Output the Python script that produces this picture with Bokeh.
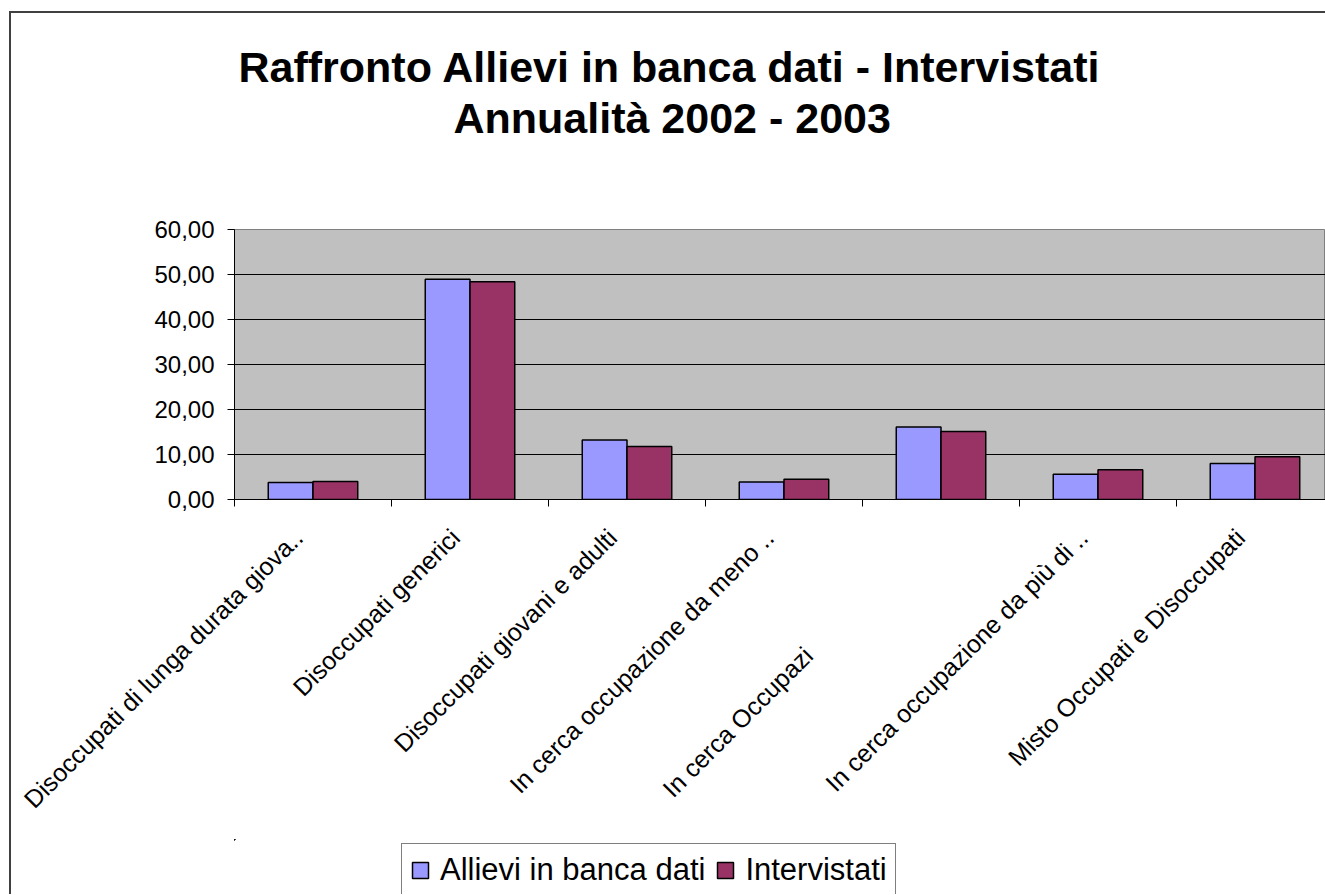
import math
import numpy as np
from bokeh.plotting import figure
from bokeh.layouts import column
from bokeh.models import Range1d, FixedTicker, Legend, LegendItem, Title
from bokeh.embed import file_html
from bokeh.resources import INLINE

# ---------------- data ----------------
categories = [
    "Disoccupati di lunga durata giova..",
    "Disoccupati generici",
    "Disoccupati giovani e adulti",
    "In cerca occupazione da meno ..",
    "In cerca Occupazi",
    "In cerca occupazione da più di ..",
    "Misto Occupati e Disoccupati",
]
allievi = [3.78, 48.96, 13.2, 3.9, 16.1, 5.6, 8.0]
intervistati = [4.0, 48.4, 11.8, 4.5, 15.1, 6.6, 9.5]
series_names = ["Allievi in banca dati", "Intervistati"]
y_ticks = [0, 10, 20, 30, 40, 50, 60]
y_tick_labels = ["0,00", "10,00", "20,00", "30,00", "40,00", "50,00", "60,00"]
title_lines = ["Raffronto Allievi in banca dati - Intervistati", "Annualità 2002 - 2003"]

# ---------------- layout ----------------
W = 1314
H_MAIN, H_LEG = 826, 55
BL, BT, BR = 223, 216, 0
BB = H_MAIN - 486
CAT_PX = 157.0
frame_w = W - BL - BR
n = len(categories)
BAR_W = 0.285
FONT = "Liberation Sans"
NBSP = "\u00a0"
BLUE, MAROON = "#9999FF", "#993366"

p = figure(width=W, height=H_MAIN, output_backend="svg", toolbar_location=None,
           x_range=Range1d(-0.5, -0.5 + frame_w / CAT_PX),
           y_range=Range1d(y_ticks[0], y_ticks[-1]),
           min_border_left=BL, min_border_top=BT, min_border_bottom=BB,
           min_border_right=BR, title=None)
p.background_fill_color = "#C0C0C0"
p.border_fill_color = "white"
p.outline_line_color = "#808080"
p.outline_line_width = 1

idx = np.arange(n)
bar_kw = dict(width=BAR_W, bottom=0, line_color="black", line_width=1.5)
r1 = p.vbar(x=idx - BAR_W / 2, top=allievi, fill_color=BLUE, **bar_kw)
r2 = p.vbar(x=idx + BAR_W / 2, top=intervistati, fill_color=MAROON, **bar_kw)

# x axis
xa = p.xaxis[0]
xa.ticker = FixedTicker(ticks=list(range(n)), minor_ticks=[i - 0.5 for i in range(n + 1)])
labels = {}
for i, c in enumerate(categories):
    labels[i] = c + NBSP * (27 if i == 4 else 3)
xa.major_label_overrides = labels
xa.major_label_orientation = math.pi / 4
xa.major_tick_line_color = None
xa.major_tick_out = 7
xa.major_tick_in = 0
xa.minor_tick_line_color = "black"
xa.minor_tick_out = 7
xa.minor_tick_in = 0
xa.axis_line_color = "black"
xa.major_label_text_font = FONT
xa.major_label_text_font_size = "25px"
xa.major_label_text_color = "black"
xa.major_label_standoff = 12

# y axis
ya = p.yaxis[0]
ya.ticker = FixedTicker(ticks=y_ticks)
ya.major_label_overrides = {t: l for t, l in zip(y_ticks, y_tick_labels)}
ya.major_tick_out = 7
ya.major_tick_in = 0
ya.major_tick_line_color = "black"
ya.minor_tick_line_color = None
ya.axis_line_color = "black"
ya.major_label_text_font = FONT
ya.major_label_text_font_size = "24px"
ya.major_label_text_color = "black"
ya.major_label_standoff = 13

p.xgrid.visible = False
p.ygrid.ticker = FixedTicker(ticks=y_ticks)
p.ygrid.grid_line_color = "black"
p.ygrid.grid_line_width = 1

# title: panels stacked upward from the frame (spacer, line 2, line 1)
p.add_layout(Title(text=" ", text_font_size="1px", standoff=84), "above")
for txt, off, so in [(title_lines[1], 219, 2), (title_lines[0], 4, 0)]:
    p.add_layout(Title(text=txt, align="left", offset=off, standoff=so,
                       vertical_align="bottom", text_font=FONT, text_font_size="43px",
                       text_font_style="bold", text_color="black"), "above")

# legend strip below the chart (same frame alignment as the chart)
p2 = figure(width=W, height=H_LEG, output_backend="svg", toolbar_location=None,
            x_axis_type=None, y_axis_type=None, title=None,
            x_range=Range1d(100, 101), y_range=Range1d(-2, -1),
            min_border_left=BL, min_border_right=BR, min_border_top=0,
            min_border_bottom=0)
p2.outline_line_color = None
p2.background_fill_color = "white"
p2.border_fill_color = "white"
l1 = p2.vbar(x=idx - BAR_W / 2, top=allievi, fill_color=BLUE, **bar_kw)
l2 = p2.vbar(x=idx + BAR_W / 2, top=intervistati, fill_color=MAROON, **bar_kw)
legend = Legend(items=[LegendItem(label=series_names[0], renderers=[l1]),
                       LegendItem(label=series_names[1], renderers=[l2])],
                orientation="horizontal", location=(401 - 234, -3),
                label_text_font=FONT, label_text_font_size="31px", label_text_color="black",
                glyph_width=20, glyph_height=20, label_standoff=10, spacing=10,
                padding=8, margin=0, border_line_color="black", border_line_width=1,
                background_fill_color="white", background_fill_alpha=1.0)
p2.add_layout(legend, "center")

layout = column(p, p2, spacing=0)
layout.styles = {"border-left": "2px solid #404040", "border-top": "2px solid #404040",
                 "margin-left": "9px", "margin-top": "11px"}

open("out.html", "w").write(file_html(layout, INLINE))
